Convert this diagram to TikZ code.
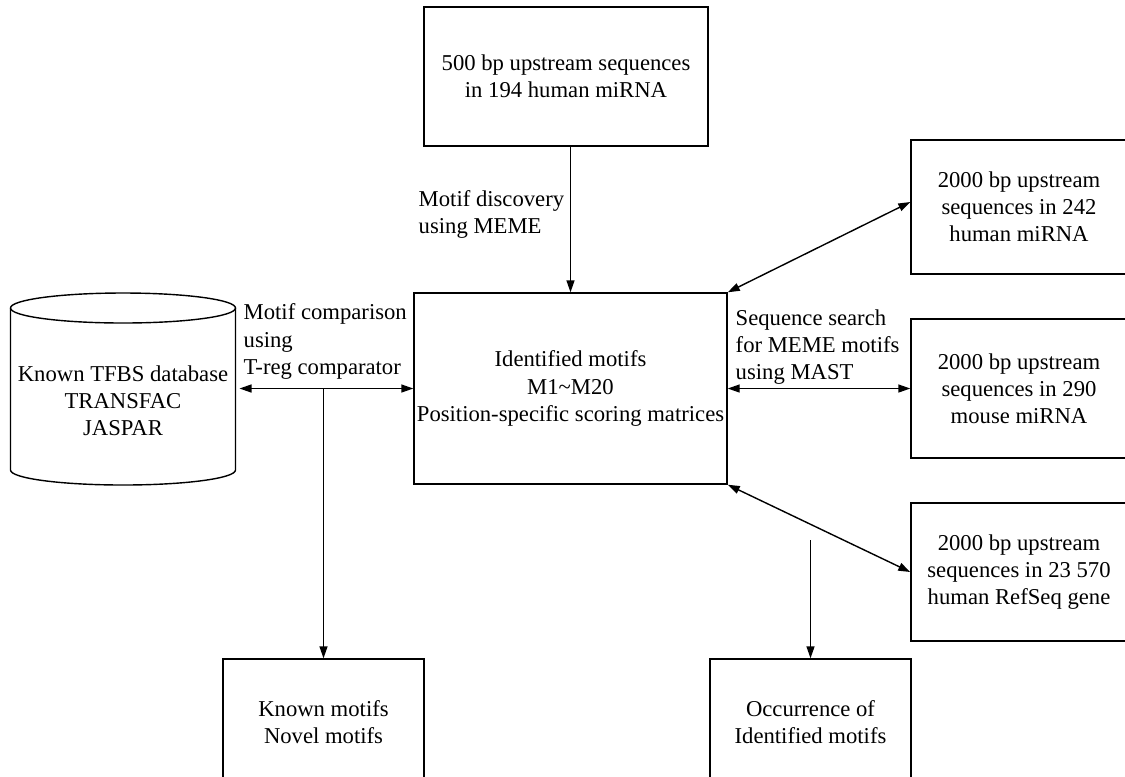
\documentclass[tikz,border=0pt]{standalone}
\usepackage{fontspec}
\setmainfont{Liberation Serif}
\usepackage{tikz}
\usetikzlibrary{arrows.meta, calc}

\begin{document}
\begin{tikzpicture}[font=\fontsize{12.9pt}{15.4pt}\selectfont,
  line width=0.8pt, >={Triangle[length=2.4mm,width=1.6mm]},
  box/.style={draw, rectangle, align=center, inner sep=1pt},
  lbl/.style={anchor=west, align=left, inner sep=0pt}]

  \useasboundingbox (0,0) rectangle (22.5,-15.52);

  % Centre: upstream input and identified motifs
  \node[box, minimum width=5.68cm, minimum height=2.78cm] (upstream) at (11.32,-1.53)
    {500 bp upstream sequences\\in 194 human miRNA};
  \node[box, minimum width=6.26cm, minimum height=3.82cm] (motifs) at (11.41,-7.77)
    {Identified motifs\\M1\textasciitilde M20\\Position-specific scoring matrices};
  \draw[->] (upstream.south -| motifs) -- (motifs.north);
  \node[lbl] (discovery) at (8.36,-4.29) {Motif discovery\\using MEME};

  % Left: known TFBS database (cylinder)
  \node[align=center, inner sep=0pt] (tfbs) at (2.46,-8.02)
    {Known TFBS database\\TRANSFAC\\JASPAR};
  \draw ($(tfbs)+(-2.25,1.86)$) coordinate (cyltop)
    arc[start angle=180, end angle=-180, x radius=2.25cm, y radius=0.3cm];
  \draw (cyltop) -- ($(tfbs)+(-2.25,-1.38)$)
    arc[start angle=180, end angle=360, x radius=2.25cm, y radius=0.3cm]
    -- ($(tfbs)+(2.25,1.86)$) coordinate (cylright);
  \draw[<->] ([xshift=0.08cm]cylright |- motifs.west) -- (motifs.west);
  \node[lbl] (comparison) at (4.86,-6.83) {Motif comparison\\using\\T-reg comparator};

  % Right: sequence sets searched with MAST
  \node[box, minimum width=4.32cm, minimum height=2.68cm] (hsa) at (20.38,-4.14)
    {2000 bp upstream\\sequences in 242\\ human miRNA};
  \node[box, minimum width=4.32cm, minimum height=2.78cm] (mmu) at (20.38,-7.77)
    {2000 bp upstream\\ sequences in 290\\mouse miRNA};
  \node[box, minimum width=4.32cm, minimum height=2.76cm] (refseq) at (20.38,-11.44)
    {2000 bp upstream\\sequences in 23 570\\human RefSeq gene};
  \draw[<->] (motifs.north east) -- ([yshift=0.1cm]hsa.west);
  \draw[<->] (motifs.east) -- (mmu.west |- motifs.east);
  \draw[<->] (motifs.south east) -- (refseq.west);
  \node[lbl] (search) at (14.70,-6.95) {Sequence search\\for MEME motifs\\using MAST};

  % Bottom: results
  \node[box, minimum width=4.02cm, minimum height=2.52cm] (known) at (6.47,-14.44)
    {Known motifs\\Novel motifs};
  \node[box, minimum width=4.02cm, minimum height=2.52cm] (occur) at (16.21,-14.44)
    {Occurrence of\\Identified motifs};
  \coordinate (split) at (known.north |- motifs.west);
  \draw[->] (split) -- (known.north);
  \coordinate (occtop) at ($(occur.north)+(0,2.36)$);
  \draw[->] (occtop) -- (occur.north);

\end{tikzpicture}
\end{document}
